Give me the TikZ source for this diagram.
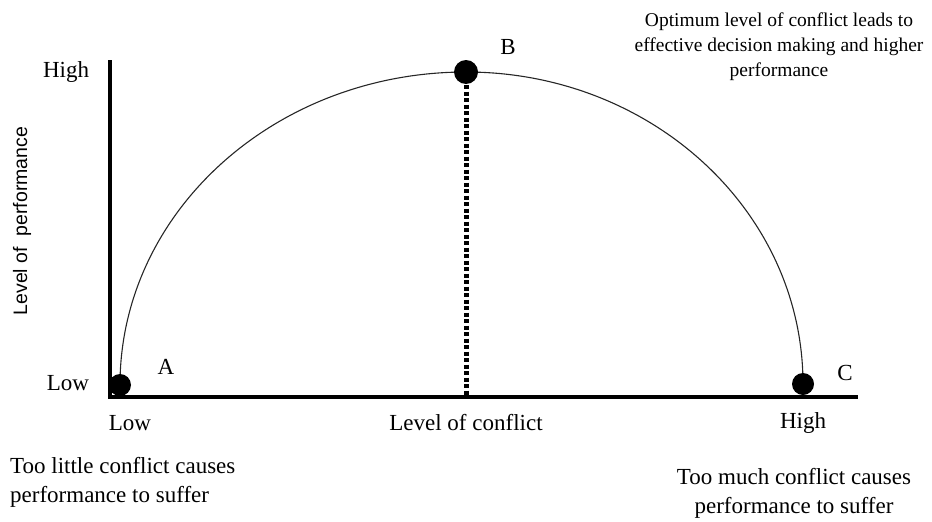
\documentclass[tikz,border=0pt]{standalone}
\usepackage{fontspec}
\setmainfont{Liberation Serif}
\newfontfamily\labsans{Liberation Sans}
\begin{document}
\begin{tikzpicture}[x=1pt,y=-1pt,
  axisline/.style={line width=3.5pt,black},
  curveline/.style={line width=1.1pt,black!85},
  dropline/.style={line width=5pt,black,dash pattern=on 4pt off 2.5pt},
  dot/.style={circle,fill=black,inner sep=0pt,minimum size=22pt},
  lbl/.style={font=\fontsize{23}{27}\selectfont,inner sep=0pt},
  note/.style={font=\fontsize{23}{29}\selectfont,inner sep=0pt,align=center},
  topnote/.style={font=\fontsize{19.5}{25}\selectfont,inner sep=0pt,align=center}]
\useasboundingbox (0,0) rectangle (932,522);
\coordinate (O) at (110,397);
\coordinate (ytop) at (110,60);
\coordinate (xend) at (858,397);
\coordinate (pA) at (120,385);
\coordinate (pB) at (466,72);
\coordinate (pC) at (803,384);
% axes
\draw[axisline] (ytop) -- (O.center) -- (xend);
% curve
\draw[curveline] (pA) arc[start angle=180,end angle=90,x radius=346pt,y radius=313pt]
  arc[start angle=90,end angle=0,x radius=337pt,y radius=312pt];
% dashed drop
\draw[dropline] (pB) -- (pB |- O);
% dots
\node[dot] (A) at (pA) {};
\node[dot,minimum size=24pt] (B) at (pB) {};
\node[dot] (C) at (pC) {};
% point labels
\node[lbl] (la) at (166,367) {A};
\node[lbl] (lb) at (508,47) {B};
\node[lbl] (lc) at (845,373) {C};
% axis tick labels
\node[lbl] (yhigh) at (66,72) {High};
\node[lbl] (ylow) at (68,383) {Low};
\node[lbl] (xlow) at (130,423) {Low};
\node[lbl] (xmid) at (466,423) {Level of conflict};
\node[lbl] (xhigh) at (803,423) {High};
% y label
\node[font=\labsans\fontsize{19.5}{22}\selectfont,rotate=90,inner sep=0pt] (ylab) at (22,221) {Level of\ \ performance};
% notes
\node[topnote] (opt) at (779,47) {Optimum level of conflict leads to\\effective decision making and higher\\performance};
\node[note,anchor=west,align=left] (little) at (10,482) {Too little conflict causes\\performance to suffer};
\node[note] (much) at (794,493) {Too much conflict causes\\performance to suffer};
\end{tikzpicture}
\end{document}
